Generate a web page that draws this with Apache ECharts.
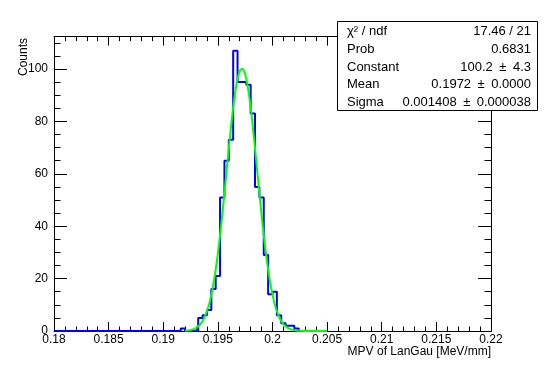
<!DOCTYPE html>
<html>
<head>
<meta charset="utf-8">
<script src="https://cdn.jsdelivr.net/npm/echarts@6/dist/echarts.min.js"></script>
<style>
  html, body { margin: 0; padding: 0; background: #fff; }
  #chart { width: 545px; height: 369px; }
</style>
</head>
<body>
<div id="chart"></div>
<script>
// histogram: 100 bins from 0.18 to 0.22, only bins 29..55 are filled
const binMin = 0.18;
const binMax = 0.22;
const binWidth = 0.0004;
const firstBin = 29;
const counts = [1, 0, 0, 0, 5, 6, 8, 16, 21, 51, 65, 73, 107, 95, 95, 94, 83, 55, 51, 29, 14, 15, 6, 3, 2, 2, 1];

// gaussian fit (values from the stats box)
const fitConst = 100.2;
const fitMean = 0.1972;
const fitSigma = 0.001408;
const fitRange = [0.192, 0.205];

const statLabels = ['χ² / ndf', 'Prob', 'Constant', 'Mean', 'Sigma'];
const statValues = ['17.46 / 21', '0.6831', '100.2 ± 4.3', '0.1972 ± 0.0000', '0.001408 ± 0.000038'];

const yMax = 112.35;
const font = 'Liberation Sans, Arial, Helvetica, sans-serif';

// outline of the histogram, from the left edge to the last filled bin
const histLine = [[binMin, 0]];
const lastBin = firstBin + counts.length;
for (let k = 0; k < lastBin; k++) {
    const i = k - firstBin;
    const c = i >= 0 ? counts[i] : 0;
    histLine.push([binMin + k * binWidth, c]);
    histLine.push([binMin + (k + 1) * binWidth, c]);
}
histLine.push([binMin + lastBin * binWidth, 0]);

// fit curve sampled over its range
const fitLine = [];
for (let i = 0; i <= 200; i++) {
    const x = fitRange[0] + (fitRange[1] - fitRange[0]) * i / 200;
    const z = (x - fitMean) / fitSigma;
    fitLine.push([x, fitConst * Math.exp(-0.5 * z * z)]);
}

const black = '#000';
function xAx(pos, labels) {
    return {
        type: 'value', position: pos, min: binMin, max: binMax, interval: 0.005,
        axisLine: { show: true, onZero: false, lineStyle: { color: black, width: 1 } },
        axisTick: { show: true, inside: true, length: 9, lineStyle: { color: black } },
        minorTick: { show: true, splitNumber: 5, length: 4.5, lineStyle: { color: black } },
        splitLine: { show: false },
        axisLabel: {
            show: labels, color: black, fontSize: 12, fontFamily: font, margin: 3,
            formatter: v => String(+v.toFixed(3))
        }
    };
}
function yAx(pos, step, len, labels) {
    return {
        type: 'value', position: pos, min: 0, max: yMax, interval: step,
        axisLine: { show: true, onZero: false, lineStyle: { color: black, width: 1 } },
        axisTick: { show: true, inside: true, length: len, lineStyle: { color: black } },
        splitLine: { show: false },
        axisLabel: {
            show: labels, color: black, fontSize: 12, fontFamily: font, margin: 6,
            formatter: v => (v % 20 === 0 ? String(v) : '')
        }
    };
}

const chart = echarts.init(document.getElementById('chart'), null, { renderer: 'canvas' });

const graphics = [
    {
        type: 'text', x: 23.5, y: 38, rotation: Math.PI / 2, z: 100,
        style: { text: 'Counts', fill: black, font: '12px ' + font, align: 'right', verticalAlign: 'middle' }
    },
    {
        type: 'text', x: 491, y: 352, z: 100,
        style: { text: 'MPV of LanGau [MeV/mm]', fill: black, font: '12px ' + font, align: 'right', verticalAlign: 'middle' }
    },
    {
        type: 'rect', z: 100,
        shape: { x: 337.5, y: 21.5, width: 200, height: 89 },
        style: { fill: '#fff', stroke: black, lineWidth: 1 }
    }
];
statLabels.forEach((t, i) => {
    const y = 31.5 + i * 17.8;
    graphics.push({
        type: 'text', x: 347, y: y, z: 101,
        style: { text: t, fill: black, font: '13px ' + font, align: 'left', verticalAlign: 'middle' }
    });
    graphics.push({
        type: 'text', x: 531, y: y, z: 101,
        style: {
            text: statValues[i].replace(' ± ', '\u2002±\u2002'),
            fill: black, font: '13px ' + font, align: 'right', verticalAlign: 'middle'
        }
    });
});

chart.setOption({
    animation: false,
    backgroundColor: '#fff',
    grid: { left: 54, right: 54, top: 36.65, bottom: 38, containLabel: false },
    xAxis: [xAx('bottom', true), xAx('top', false)],
    yAxis: [
        yAx('left', 5, 6.5, false),
        yAx('left', 20, 13, true),
        yAx('right', 5, 6.5, false),
        yAx('right', 20, 13, false)
    ],
    series: [
        {
            type: 'line', xAxisIndex: 0, yAxisIndex: 0, data: histLine,
            symbol: 'none', clip: true,
            lineStyle: { color: '#0000ff', width: 2 }
        },
        {
            type: 'line', xAxisIndex: 0, yAxisIndex: 0, data: fitLine,
            symbol: 'none', smooth: false, clip: true,
            lineStyle: { color: '#00ff00', width: 2 }
        }
    ],
    graphic: graphics
});
</script>
</body>
</html>
